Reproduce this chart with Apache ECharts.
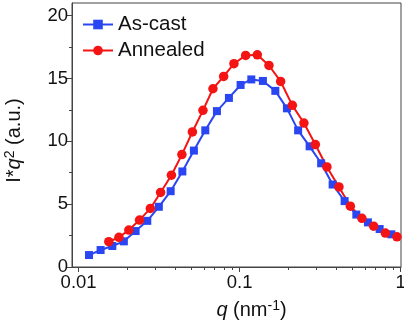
<!DOCTYPE html>
<html>
<head>
<meta charset="utf-8">
<script src="https://cdn.jsdelivr.net/npm/echarts@6/dist/echarts.min.js"></script>
<style>
    html, body { margin: 0; padding: 0; background: #fff; }
    #chart { width: 404px; height: 324px; }
</style>
</head>
<body>
<div id="chart"></div>
<script>
// q (nm^-1) and I*q^2
var qCast = [0.0116, 0.0137, 0.0162, 0.0191, 0.0226, 0.0267, 0.0315, 0.0373, 0.0441, 0.0520, 0.0612, 0.0723, 0.0858, 0.1014, 0.1182, 0.1395, 0.1666, 0.1967, 0.2308, 0.2721, 0.3208, 0.3781, 0.4489, 0.5306, 0.6264, 0.7407, 0.8754];
var iCast = [0.95, 1.35, 1.67, 2.04, 2.86, 3.67, 4.79, 6.03, 7.60, 9.26, 10.87, 12.40, 13.45, 14.48, 14.92, 14.80, 14.01, 12.62, 10.87, 9.60, 8.25, 6.56, 5.24, 4.17, 3.55, 3.02, 2.60];
var qAnn = [0.0154, 0.0178, 0.0205, 0.0239, 0.0279, 0.0323, 0.0377, 0.0438, 0.0509, 0.0592, 0.0683, 0.0796, 0.0922, 0.1090, 0.1288, 0.1521, 0.1798, 0.2125, 0.2508, 0.2953, 0.3484, 0.4139, 0.4872, 0.5747, 0.6797, 0.8035, 0.9484];
var iAnn = [2.01, 2.36, 2.94, 3.73, 4.66, 5.93, 7.30, 8.94, 10.74, 12.46, 14.18, 15.16, 16.17, 16.83, 16.88, 16.03, 14.76, 12.86, 11.45, 9.74, 7.96, 6.37, 4.84, 3.87, 3.25, 2.70, 2.40];

var xMajor = [0.01, 0.1, 1];
var xMinor = [0.02, 0.03, 0.04, 0.05, 0.06, 0.07, 0.08, 0.09, 0.2, 0.3, 0.4, 0.5, 0.6, 0.7, 0.8, 0.9];
var yMajor = [0, 5, 10, 15, 20];
var yMinor = [2.5, 7.5, 12.5, 17.5];

var FONT = '"Liberation Sans", Arial, sans-serif';
var AXIS_COLOR = '#444';

function pairs(xs, ys) {
    return xs.map(function (x, i) { return [x, ys[i]]; });
}

// rich styles for axis names (italic q, superscripts)
var nameRich = {
    i: { fontSize: 20, fontStyle: 'italic', color: '#111', fontFamily: FONT },
    sup: { fontSize: 14, color: '#111', fontFamily: FONT, padding: [0, 0, 9, 0] }
};

var myChart = echarts.init(document.getElementById('chart'));
myChart.setOption({
    animation: false,
    textStyle: { fontFamily: FONT },
    grid: {
        left: 72, right: 3, top: 3, bottom: 57,
        containLabel: false, outerBoundsMode: 'none',
        show: true, borderColor: AXIS_COLOR, borderWidth: 1
    },
    legend: {
        orient: 'vertical',
        left: 82, top: 14, padding: 0,
        itemWidth: 30, itemHeight: 12, itemGap: 5,
        textStyle: { fontSize: 20.5, color: '#111', fontFamily: FONT, lineHeight: 20 },
        data: ['As-cast', 'Annealed']
    },
    xAxis: [
        {
            type: 'log', logBase: 10, position: 'bottom',
            min: 0.0091, max: 1.005,
            name: '{i|q} (nm{sup|-1})',
            nameLocation: 'middle', nameGap: 32,
            nameTextStyle: { fontSize: 20, color: '#111', fontFamily: FONT, padding: [0, 0, 0, 30], rich: nameRich },
            axisLine: { show: true, lineStyle: { color: AXIS_COLOR, width: 1 } },
            axisTick: { show: true, inside: false, length: 5, customValues: xMajor, lineStyle: { color: AXIS_COLOR } },
            axisLabel: {
                show: true, customValues: xMajor, fontSize: 18.5, color: '#111', margin: 6, fontFamily: FONT,
                formatter: function (v) { return String(v); }
            },
            splitLine: { show: false },
            minorTick: { show: false }
        },
        {
            type: 'log', logBase: 10, position: 'bottom',
            min: 0.0091, max: 1.005,
            axisLine: { show: false },
            axisTick: { show: true, inside: false, length: 3, customValues: xMinor, lineStyle: { color: AXIS_COLOR } },
            axisLabel: { show: false },
            splitLine: { show: false }
        }
    ],
    yAxis: [
        {
            type: 'value', position: 'left',
            min: 0, max: 21, interval: 5,
            name: 'I*{i|q}{sup|2} (a.u.)',
            nameLocation: 'middle', nameGap: 46, nameRotate: 90,
            nameTextStyle: { fontSize: 20, color: '#111', fontFamily: FONT, padding: [0, 11, 0, 0], rich: nameRich },
            axisLine: { show: true, lineStyle: { color: AXIS_COLOR, width: 1 } },
            axisTick: { show: true, inside: false, length: 5, customValues: yMajor, lineStyle: { color: AXIS_COLOR } },
            axisLabel: { show: true, customValues: yMajor, fontSize: 18.5, color: '#111', margin: 4, fontFamily: FONT },
            splitLine: { show: false }
        },
        {
            type: 'value', position: 'left',
            min: 0, max: 21,
            axisLine: { show: false },
            axisTick: { show: true, inside: false, length: 3, customValues: yMinor, lineStyle: { color: AXIS_COLOR } },
            axisLabel: { show: false },
            splitLine: { show: false }
        }
    ],
    series: [
        {
            name: 'As-cast',
            type: 'line',
            xAxisIndex: 0, yAxisIndex: 0,
            data: pairs(qCast, iCast),
            symbol: 'rect', symbolSize: 8,
            lineStyle: { color: '#2a46f2', width: 2 },
            itemStyle: { color: '#2a46f2' }
        },
        {
            name: 'Annealed',
            type: 'line',
            xAxisIndex: 0, yAxisIndex: 0,
            data: pairs(qAnn, iAnn),
            symbol: 'circle', symbolSize: 9.5,
            lineStyle: { color: '#f41414', width: 2 },
            itemStyle: { color: '#f41414' }
        }
    ]
});
</script>
</body>
</html>
